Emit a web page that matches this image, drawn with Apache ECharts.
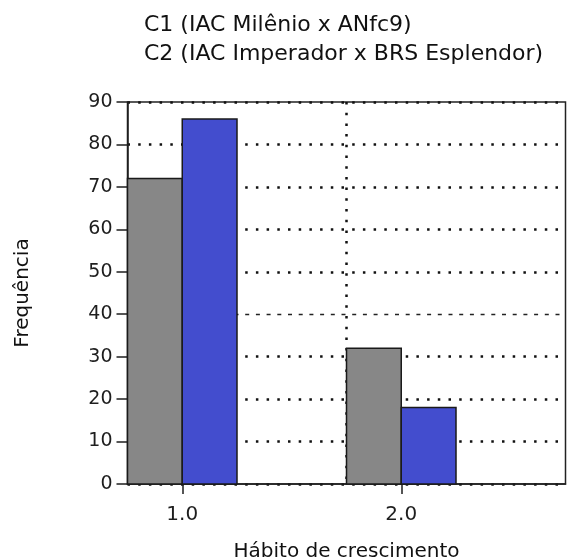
<!DOCTYPE html>
<html>
<head>
<meta charset="utf-8">
<script src="https://cdn.jsdelivr.net/npm/echarts@6/dist/echarts.min.js"></script>
<style>
html,body{margin:0;padding:0;background:#fff;}
#chart{width:568px;height:559px;}
</style>
</head>
<body>
<div id="chart"></div>
<script>
// ---- data ----
const categories = [1.0, 2.0];
const seriesNames = ['C1 (IAC Milênio x ANfc9)', 'C2 (IAC Imperador x BRS Esplendor)'];
const c1Values = [72, 32];
const c2Values = [86, 18];
const xAxisTitle = 'Hábito de crescimento';
const yAxisTitle = 'Frequência';

// ---- styles ----
const FONT = 'DejaVu Sans';
const INK = '#1e1e1e';
const BAR_W = 0.25;
const dotted = [2.5, 8.2];

function makeRender(side) {
  return function (params, api) {
    const x = api.value(0), v = api.value(1);
    const x0 = side < 0 ? x - BAR_W : x;
    const x1 = side < 0 ? x : x + BAR_W;
    const pTop = api.coord([x0, v]);
    const pBot = api.coord([x1, 0]);
    return {
      type: 'rect',
      shape: { x: pTop[0], y: pTop[1], width: pBot[0] - pTop[0], height: pBot[1] - pTop[1] },
      style: { fill: api.visual('color'), stroke: '#1a1a1a', lineWidth: 1.5 }
    };
  };
}

const dotColors = [];
const dashColors = [];
for (let i = 0; i <= 9; i++) {
  dotColors.push(i === 4 ? 'rgba(0,0,0,0)' : '#111');
  dashColors.push(i === 4 ? '#222' : 'rgba(0,0,0,0)');
}

const chart = echarts.init(document.getElementById('chart'));
chart.setOption({
  animation: false,
  backgroundColor: '#fff',
  textStyle: { fontFamily: FONT },
  legend: {
    orient: 'vertical',
    left: 134,
    top: 9,
    itemWidth: 0,
    itemHeight: 0,
    itemGap: 7,
    selectedMode: false,
    textStyle: { fontFamily: FONT, fontSize: 22, color: '#111', lineHeight: 22 },
    data: seriesNames
  },
  grid: {
    left: 127.5, right: 2.5, top: 102, bottom: 75,
    outerBoundsMode: 'none',
    containLabel: false,
    show: true, borderColor: '#222', borderWidth: 1.5, backgroundColor: 'rgba(0,0,0,0)'
  },
  xAxis: [{
    type: 'value',
    min: 0.75, max: 2.75, interval: 1,
    name: xAxisTitle,
    nameLocation: 'middle',
    nameGap: 58,
    nameTextStyle: { fontFamily: FONT, fontSize: 20, color: '#111' },
    axisLine: { show: true, onZero: false, lineStyle: { color: INK, width: 1.5 } },
    axisTick: { show: true, length: 10, customValues: categories, lineStyle: { color: INK, width: 1.5 } },
    axisLabel: {
      customValues: categories, margin: 21,
      fontFamily: FONT, fontSize: 20, color: INK,
      formatter: v => Number(v).toFixed(1)
    },
    splitLine: { show: false }
  }, {
    type: 'value',
    min: 0.75, max: 2.75, interval: 1,
    position: 'bottom',
    axisLine: { show: false }, axisTick: { show: false }, axisLabel: { show: false },
    splitLine: {
      show: true, showMinLine: false, showMaxLine: false,
      lineStyle: { type: dotted, width: 2.5, color: '#111', cap: 'butt' }
    }
  }],
  yAxis: [{
    type: 'value',
    min: 0, max: 90, interval: 10,
    name: yAxisTitle,
    nameLocation: 'middle',
    nameGap: 95,
    nameTextStyle: { fontFamily: FONT, fontSize: 20, color: '#111' },
    axisLine: { show: true, lineStyle: { color: INK, width: 1.5 } },
    axisTick: { show: true, length: 11, lineStyle: { color: INK, width: 1.5 } },
    axisLabel: { margin: 15, fontFamily: FONT, fontSize: 19, color: INK },
    splitLine: { show: true, lineStyle: { type: dotted, width: 2.5, color: dotColors, cap: 'butt' } }
  }, {
    type: 'value',
    min: 0, max: 90, interval: 10,
    position: 'left',
    axisLine: { show: false }, axisTick: { show: false }, axisLabel: { show: false },
    splitLine: { show: true, lineStyle: { type: [4, 6.7], width: 1.3, color: dashColors } }
  }],
  series: [{
    name: seriesNames[0],
    type: 'custom',
    color: '#878787',
    renderItem: makeRender(-1),
    encode: { x: 0, y: 1 },
    data: categories.map((c, i) => [c, c1Values[i]]),
    z: 5
  }, {
    name: seriesNames[1],
    type: 'custom',
    color: '#434DCE',
    renderItem: makeRender(1),
    encode: { x: 0, y: 1 },
    data: categories.map((c, i) => [c, c2Values[i]]),
    z: 5
  }]
});
</script>
</body>
</html>
